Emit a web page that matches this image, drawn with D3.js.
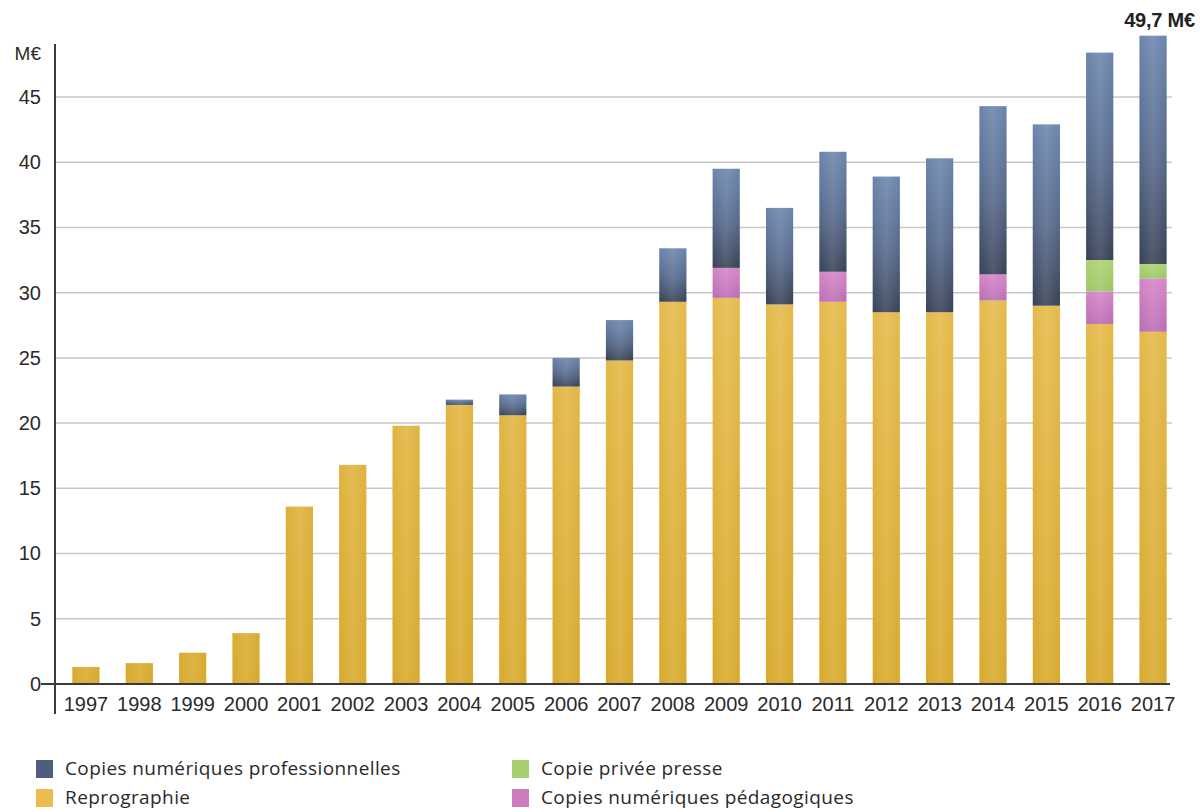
<!DOCTYPE html>
<html>
<head>
<meta charset="utf-8">
<script src="https://cdn.jsdelivr.net/npm/d3@7/dist/d3.min.js"></script>
<style>
  html, body { margin: 0; padding: 0; background: #fff; }
  svg { display: block; }
</style>
</head>
<body>
<svg id="chart" width="1200" height="812"></svg>
<script>
// Annual collections, in millions of euros
const years = ["1997","1998","1999","2000","2001","2002","2003","2004","2005","2006","2007",
               "2008","2009","2010","2011","2012","2013","2014","2015","2016","2017"];
const reprographie    = [1.3, 1.6, 2.4, 3.9, 13.6, 16.8, 19.8, 21.4, 20.6, 22.8, 24.8,
                         29.3, 29.6, 29.1, 29.3, 28.5, 28.5, 29.4, 29.0, 27.6, 27.0];
const pedagogiques    = [0, 0, 0, 0, 0, 0, 0, 0, 0, 0, 0,
                         0, 2.3, 0, 2.3, 0, 0, 2.0, 0, 2.5, 4.1];
const presse          = [0, 0, 0, 0, 0, 0, 0, 0, 0, 0, 0,
                         0, 0, 0, 0, 0, 0, 0, 0, 2.4, 1.1];
const professionnelles = [0, 0, 0, 0, 0, 0, 0, 0.4, 1.6, 2.2, 3.1,
                         4.1, 7.6, 7.4, 9.2, 10.4, 11.8, 12.9, 13.9, 15.9, 17.5];
const yTicks = [0, 5, 10, 15, 20, 25, 30, 35, 40, 45];
const totalLabel = "49,7 M€";
const unitLabel = "M€";

const seriesKeys = ["reprographie", "pedagogiques", "presse", "professionnelles"];
const seriesNames = {
  professionnelles: "Copies numériques professionnelles",
  reprographie: "Reprographie",
  presse: "Copie privée presse",
  pedagogiques: "Copies numériques pédagogiques"
};

const rows = years.map((y, i) => ({
  year: y,
  reprographie: reprographie[i],
  pedagogiques: pedagogiques[i],
  presse: presse[i],
  professionnelles: professionnelles[i]
}));

const svg = d3.select("#chart");
const axisX = 55, plotRight = 1172, baseY = 684;

const x = d3.scaleBand().domain(years).range([59, 1180]).paddingInner(0.49).paddingOuter(0.25);
const y = d3.scaleLinear().domain([0, 45]).range([baseY, 97]);

// Gradients
const defs = svg.append("defs");
function vGrad(id, stops, userSpace) {
  const g = defs.append("linearGradient").attr("id", id)
    .attr("x1", 0).attr("x2", 0);
  if (userSpace) {
    g.attr("gradientUnits", "userSpaceOnUse").attr("y1", 40).attr("y2", baseY);
  } else {
    g.attr("y1", 0).attr("y2", 1);
  }
  stops.forEach(([o, c]) => g.append("stop").attr("offset", o).attr("stop-color", c));
}
vGrad("g-repro", [[0, "#ecc55e"], [1, "#d8a92c"]], true);
vGrad("g-pro", [[0, "#6b85ad"], [0.55, "#55688a"], [1, "#384256"]], false);
vGrad("g-ped", [[0, "#d585c8"], [1, "#bb6cb3"]], false);
vGrad("g-presse", [[0, "#add271"], [1, "#9cc664"]], false);

// soft vertical sheen across each bar
const sheen = defs.append("linearGradient").attr("id", "g-sheen").attr("x1", 0).attr("x2", 1).attr("y1", 0).attr("y2", 0);
sheen.append("stop").attr("offset", 0).attr("stop-color", "#fff").attr("stop-opacity", 0);
sheen.append("stop").attr("offset", 0.5).attr("stop-color", "#fff").attr("stop-opacity", 0.12);
sheen.append("stop").attr("offset", 1).attr("stop-color", "#fff").attr("stop-opacity", 0);

const fills = {
  reprographie: "url(#g-repro)",
  pedagogiques: "url(#g-ped)",
  presse: "url(#g-presse)",
  professionnelles: "url(#g-pro)"
};
const legendColors = {
  professionnelles: "#4e5e7c",
  reprographie: "#e9bd50",
  presse: "#a8cf6e",
  pedagogiques: "#cc7dc0"
};

// Gridlines
svg.append("g").selectAll("line").data(yTicks.filter(d => d > 0)).join("line")
  .attr("x1", axisX).attr("x2", plotRight)
  .attr("y1", d => y(d)).attr("y2", d => y(d))
  .attr("stroke", "#c9c9c9").attr("stroke-width", 1.5);

// Stacked bars
const stack = d3.stack().keys(seriesKeys)(rows);
const layers = svg.append("g").selectAll("g").data(stack).join("g")
  .attr("fill", d => fills[d.key]);
layers.selectAll("rect").data(d => d.filter(s => s[1] - s[0] > 0)).join("rect")
  .attr("x", d => x(d.data.year))
  .attr("width", x.bandwidth())
  .attr("y", d => y(d[1]))
  .attr("height", d => y(d[0]) - y(d[1]));

const totals = rows.map(r => seriesKeys.reduce((s, k) => s + r[k], 0));
svg.append("g").selectAll("rect").data(rows).join("rect")
  .attr("x", d => x(d.year)).attr("width", x.bandwidth())
  .attr("y", (d, i) => y(totals[i])).attr("height", (d, i) => y(0) - y(totals[i]))
  .attr("fill", "url(#g-sheen)");

// Axes
const yAxis = d3.axisLeft(y).tickValues(yTicks).tickSize(0).tickPadding(14);
const yg = svg.append("g").attr("transform", `translate(${axisX},0)`).call(yAxis);
yg.select(".domain").remove();
yg.selectAll("text").attr("font-family", "'Liberation Sans', Arial, sans-serif")
  .attr("font-size", 20).attr("fill", "#2a2a2a");

svg.append("line").attr("x1", axisX).attr("x2", axisX).attr("y1", 44).attr("y2", 714)
  .attr("stroke", "#3a3a3a").attr("stroke-width", 2);

const xAxis = d3.axisBottom(x).tickSize(0).tickPadding(13);
const xg = svg.append("g").attr("transform", `translate(0,${baseY})`).call(xAxis);
xg.select(".domain").remove();
xg.selectAll("text").attr("font-family", "'Liberation Sans', Arial, sans-serif")
  .attr("font-size", 20).attr("fill", "#2a2a2a");

svg.append("line").attr("x1", 41).attr("x2", 1170).attr("y1", baseY).attr("y2", baseY)
  .attr("stroke", "#3a3a3a").attr("stroke-width", 2);

// Unit label
svg.append("text").attr("x", 41).attr("y", 60).attr("text-anchor", "end")
  .attr("font-family", "'Liberation Sans', Arial, sans-serif").attr("font-size", 19)
  .attr("fill", "#2a2a2a").text(unitLabel);

// Total label above last bar
svg.append("text").attr("x", 1195).attr("y", 27).attr("text-anchor", "end")
  .attr("font-family", "'Liberation Sans', Arial, sans-serif").attr("font-weight", "bold")
  .attr("font-size", 20).attr("fill", "#222").attr("letter-spacing", -0.2)
  .text(totalLabel);

// Legend
const legendItems = [
  { key: "professionnelles", x: 36, y: 760 },
  { key: "reprographie", x: 36, y: 789 },
  { key: "presse", x: 512, y: 760 },
  { key: "pedagogiques", x: 512, y: 789 }
];
const lg = svg.append("g").selectAll("g").data(legendItems).join("g")
  .attr("transform", d => `translate(${d.x},${d.y})`);
lg.append("rect").attr("width", 17).attr("height", 18)
  .attr("fill", d => legendColors[d.key]);
lg.append("text").attr("x", 29).attr("y", 15)
  .attr("font-family", "'Open Sans', Lato, sans-serif").attr("font-size", 19)
  .attr("letter-spacing", 0.4)
  .attr("fill", "#2a2a2a").text(d => seriesNames[d.key]);
</script>
</body>
</html>
